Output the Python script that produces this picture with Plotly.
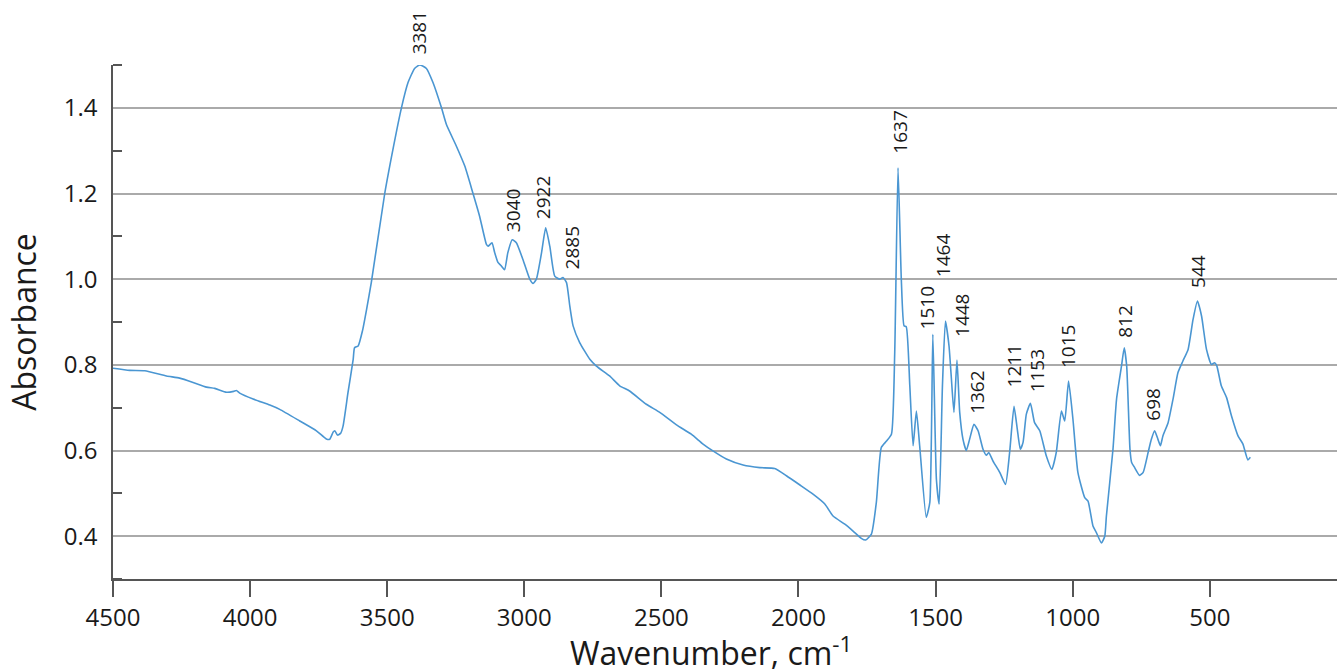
import plotly.graph_objects as go

wavenumber = [4500, 4439, 4384, 4305, 4257, 4208, 4159, 4129, 4086, 4060, 4050, 4038, 3989, 3928, 3892,
              3819, 3758, 3722, 3710, 3697, 3691, 3681, 3670, 3661, 3643, 3624, 3619, 3606, 3590, 3575,
              3558, 3509, 3479, 3448, 3424, 3400, 3381, 3357, 3333, 3302, 3284, 3248, 3217, 3187, 3163,
              3138, 3132, 3118, 3108, 3096, 3084, 3072, 3060, 3044, 3029, 3005, 2980, 2968, 2956, 2937,
              2922, 2907, 2889, 2871, 2859, 2846, 2834, 2822, 2798, 2761, 2737, 2689, 2652, 2616, 2555,
              2506, 2445, 2391, 2348, 2312, 2263, 2202, 2141, 2087, 2044, 1996, 1947, 1904, 1874, 1831,
              1801, 1771, 1755, 1734, 1716, 1698, 1679, 1661, 1649, 1637, 1625, 1615, 1607, 1594, 1582,
              1570, 1558, 1534, 1521, 1510, 1497, 1487, 1475, 1464, 1451, 1443, 1433, 1422, 1412, 1400,
              1388, 1376, 1360, 1345, 1327, 1315, 1306, 1291, 1266, 1245, 1230, 1214, 1202, 1191, 1181,
              1169, 1154, 1139, 1120, 1096, 1076, 1060, 1041, 1029, 1015, 999, 981, 956, 944, 926,
              914, 895, 883, 877, 853, 840, 822, 812, 803, 791, 785, 774, 756, 743, 725,
              713, 701, 689, 680, 671, 652, 634, 616, 598, 579, 561, 545, 530, 512, 494,
              482, 474, 458, 439, 421, 397, 379, 361, 352]
absorbance = [0.792, 0.787, 0.786, 0.774, 0.769, 0.759, 0.748, 0.745, 0.736, 0.738, 0.740, 0.734, 0.720, 0.706, 0.696,
              0.669, 0.646, 0.627, 0.626, 0.643, 0.646, 0.636, 0.640, 0.657, 0.735, 0.813, 0.840, 0.844, 0.880, 0.930,
              0.992, 1.200, 1.303, 1.400, 1.459, 1.492, 1.500, 1.492, 1.459, 1.400, 1.361, 1.311, 1.264, 1.200, 1.147,
              1.081, 1.077, 1.085, 1.062, 1.039, 1.031, 1.022, 1.062, 1.092, 1.085, 1.046, 1.000, 0.990, 1.000, 1.062,
              1.120, 1.077, 1.007, 1.000, 1.004, 0.992, 0.937, 0.891, 0.852, 0.813, 0.797, 0.774, 0.751, 0.739, 0.708,
              0.689, 0.660, 0.638, 0.615, 0.599, 0.580, 0.566, 0.560, 0.558, 0.541, 0.520, 0.498, 0.475, 0.447, 0.428,
              0.412, 0.395, 0.391, 0.405, 0.479, 0.607, 0.622, 0.638, 0.829, 1.260, 1.000, 0.891, 0.889, 0.751, 0.611,
              0.692, 0.611, 0.444, 0.479, 0.871, 0.533, 0.475, 0.751, 0.902, 0.844, 0.774, 0.689, 0.811, 0.689, 0.626,
              0.600, 0.626, 0.661, 0.646, 0.603, 0.589, 0.595, 0.576, 0.549, 0.521, 0.595, 0.703, 0.650, 0.603, 0.619,
              0.685, 0.710, 0.665, 0.646, 0.587, 0.556, 0.595, 0.692, 0.669, 0.762, 0.673, 0.549, 0.490, 0.482, 0.424,
              0.409, 0.384, 0.400, 0.447, 0.603, 0.720, 0.797, 0.840, 0.797, 0.603, 0.572, 0.560, 0.542, 0.549, 0.595,
              0.626, 0.646, 0.626, 0.611, 0.634, 0.665, 0.720, 0.782, 0.809, 0.836, 0.906, 0.949, 0.914, 0.836, 0.801,
              0.805, 0.797, 0.751, 0.724, 0.681, 0.634, 0.615, 0.578, 0.584]

peak_labels = ["3381", "3040", "2922", "2885", "1637", "1510", "1464", "1448", "1362", "1211", "1153", "1015", "812", "698", "544"]
peak_label_x = [3384, 3043, 2929, 2826, 1633, 1528, 1473, 1406, 1349, 1215, 1132, 1015, 808, 705, 543]
peak_label_y = [1.519, 1.105, 1.136, 1.017, 1.2875, 0.879, 1.000, 0.860, 0.682, 0.743, 0.731, 0.788, 0.858, 0.665, 0.976]

x_ticks = [4500, 4000, 3500, 3000, 2500, 2000, 1500, 1000, 500]
y_ticks = [0.4, 0.6, 0.8, 1.0, 1.2, 1.4]
y_tick_text = ["0.4", "0.6", "0.8", "1.0", "1.2", "1.4"]

Y_MIN, Y_MAX = 0.3, 1.5
FONT = "Open Sans"
fig = go.Figure()
fig.add_trace(go.Scatter(x=wavenumber, y=absorbance, mode="lines",
                         line=dict(color="#4a96d2", width=1.6, shape="spline", smoothing=0.5),
                         cliponaxis=False, hoverinfo="x+y", showlegend=False))

for t, x, y in zip(peak_labels, peak_label_x, peak_label_y):
    fig.add_annotation(x=x, xref="x", y=(y - Y_MIN) / (Y_MAX - Y_MIN), yref="paper",
                       text=t, showarrow=False, textangle=-90,
                       xanchor="center", yanchor="bottom",
                       font=dict(family=FONT, size=19, color="#1a1a1a"))

# x-axis title (placed as an annotation for exact positioning)
fig.add_annotation(x=0.4886, xref="paper", y=-0.092, yref="paper",
                   text="Wavenumber, cm<sup>-1</sup>", showarrow=False,
                   xanchor="center", yanchor="top",
                   font=dict(family=FONT, size=32, color="#1a1a1a"))

fig.update_layout(
    width=1337, height=670, autosize=False,
    margin=dict(l=113, r=0, t=65, b=91),
    paper_bgcolor="white", plot_bgcolor="white",
    font=dict(family=FONT, color="#1a1a1a"),
    xaxis=dict(range=[4500, 36], tickvals=x_ticks, ticks="outside", ticklen=16,
               tickcolor="#555555", tickwidth=1.5, showline=True, linecolor="#555555",
               linewidth=1.5, showgrid=False, zeroline=False,
               tickfont=dict(family=FONT, size=24, color="#1a1a1a")),
    yaxis=dict(range=[Y_MIN, Y_MAX], tickvals=y_ticks, ticktext=y_tick_text, ticks="",
               showline=True, linecolor="#555555", linewidth=1.5,
               showgrid=True, gridcolor="#aaaaaa", gridwidth=1.5, zeroline=False,
               ticklabelstandoff=9,
               tickfont=dict(family=FONT, size=24, color="#1a1a1a"),
               minor=dict(tick0=0.3, dtick=0.2, ticks="inside", ticklen=9,
                          tickcolor="#555555", tickwidth=1.5, showgrid=False),
               title=dict(text="Absorbance", standoff=18,
                          font=dict(family=FONT, size=32, color="#1a1a1a"))),
)

fig.write_html("out.html")
